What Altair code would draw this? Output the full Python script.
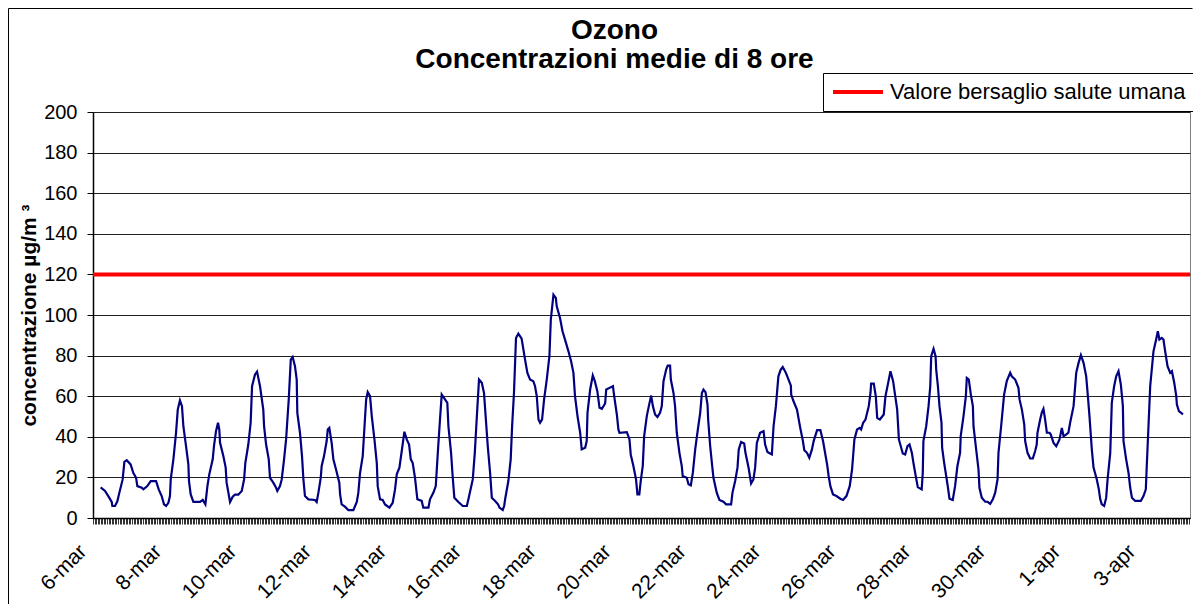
import altair as alt
import pandas as pd

# hours elapsed since 6-mar 00:00
ore = [4.9, 7.7, 9.8, 12.0, 12.4, 14.1, 15.6, 16.9, 19.0, 20.1, 21.6, 24.1, 25.8, 27.6, 28.4, 31.2, 32.3, 34.8,
       37.0, 40.4, 42.1, 44.0, 45.5, 46.8, 48.3, 49.3, 49.8, 51.5, 53.2, 54.3, 55.7, 57.0, 57.9, 59.6, 61.1, 61.5,
       62.6, 64.3, 68.6, 70.3, 72.0, 73.3, 74.5, 76.7, 77.5, 78.8, 80.1, 80.9, 81.4, 83.5, 85.0, 85.6, 87.8, 89.5,
       91.0, 93.1, 95.3, 96.8, 97.6, 99.5, 101.0, 101.9, 103.8, 105.1, 107.0, 109.1, 109.6, 110.9, 112.6, 113.4,
       115.5, 117.3, 118.1, 119.8, 120.9, 122.4, 123.7, 125.4, 126.7, 127.9, 129.4, 130.5, 130.9, 132.6, 133.9,
       134.8, 135.8, 138.0, 142.2, 143.3, 144.4, 145.9, 146.5, 148.0, 149.7, 150.4, 151.4, 152.9, 154.0, 155.7,
       157.8, 158.3, 159.3, 161.4, 163.6, 166.8, 169.0, 170.0, 171.1, 172.8, 173.7, 175.0, 176.0, 177.5, 178.6,
       180.3, 181.8, 182.4, 183.9, 185.6, 187.1, 189.9, 192.0, 193.5, 194.6, 196.3, 197.8, 199.5, 201.0, 202.5,
       203.6, 204.8, 206.3, 207.8, 210.6, 211.6, 214.9, 215.9, 218.1, 219.6, 220.9, 222.3, 223.4, 225.5, 227.0,
       227.7, 229.4, 230.4, 231.5, 234.1, 236.9, 239.5, 240.5, 243.3, 244.6, 245.8, 247.3, 249.1, 250.5, 251.4,
       252.9, 254.4, 255.5, 257.6, 259.5, 260.4, 262.5, 263.4, 264.2, 266.1, 267.6, 268.5, 269.7, 271.0, 272.5,
       274.6, 276.8, 278.3, 280.0, 282.1, 283.2, 284.3, 285.4, 286.4, 287.7, 289.0, 290.7, 292.4, 293.3, 295.0,
       296.5, 297.1, 299.2, 300.8, 302.4, 304.6, 306.3, 307.8, 308.8, 310.4, 312.1, 313.1, 315.3, 316.3, 316.8,
       318.5, 320.2, 321.5, 323.1, 324.5, 326.0, 328.1, 328.8, 330.9, 333.1, 333.9, 335.6, 336.6, 337.3, 342.0,
       343.7, 344.5, 346.2, 347.9, 348.8, 350.0, 350.9, 352.2, 353.1, 354.8, 356.1, 357.6, 358.7, 360.1, 361.6,
       363.3, 364.4, 365.5, 367.2, 368.2, 369.7, 370.2, 371.9, 372.9, 374.0, 375.7, 377.2, 377.8, 380.4, 381.5,
       383.0, 384.3, 385.8, 387.5, 389.0, 390.1, 391.1, 392.4, 393.7, 394.1, 395.4, 396.7, 397.5, 399.6, 401.3,
       403.9, 405.6, 408.8, 409.7, 411.4, 412.9, 413.7, 415.2, 417.2, 418.0, 420.0, 421.6, 423.1, 424.2, 425.3,
       427.4, 429.6, 430.6, 432.1, 434.9, 436.0, 437.5, 439.1, 440.6, 441.9, 443.9, 445.6, 447.1, 447.3, 448.8,
       451.0, 453.1, 454.8, 455.7, 457.4, 458.9, 460.6, 461.7, 463.9, 466.0, 467.7, 469.2, 470.3, 471.3, 472.4,
       474.1, 476.3, 478.8, 480.5, 482.7, 484.8, 486.3, 487.8, 489.5, 491.2, 492.1, 493.4, 494.9, 497.0, 498.1,
       498.5, 500.2, 501.5, 502.4, 504.1, 506.6, 507.7, 509.2, 510.9, 512.6, 513.5, 515.2, 516.3, 518.8, 520.3,
       521.8, 523.1, 524.6, 525.6, 527.1, 528.4, 530.9, 531.6, 532.0, 533.8, 535.3, 536.4, 537.0, 538.5, 539.8,
       540.2, 541.3, 542.3, 543.6, 544.0, 545.3, 546.6, 547.6, 548.7, 550.8, 552.3, 553.8, 555.5, 555.9, 557.7,
       559.2, 559.8, 561.1, 562.4, 563.7, 564.1, 565.8, 567.3, 567.9, 569.4, 571.6, 573.1, 574.8, 576.5, 578.0,
       579.5, 580.1, 581.8, 583.7, 585.4, 587.6, 588.6, 590.8, 592.9, 593.6, 595.1, 596.6, 597.2, 598.7, 600.4,
       602.1, 603.6, 604.6, 605.1, 606.8, 607.9, 608.9, 610.0, 611.1, 612.8, 613.6, 615.4, 617.1, 619.2, 620.7,
       621.8, 623.4, 624.9, 626.0, 628.2, 628.8, 629.9, 631.4, 632.9, 634.6, 636.3, 637.2, 638.4, 639.9, 641.0,
       643.1, 644.4, 645.3, 646.3, 647.8, 649.1, 650.0, 651.7, 652.7, 654.2, 655.5, 657.0, 658.5, 659.8, 660.2,
       661.9, 663.4, 664.5, 665.6, 667.7, 671.3, 673.0, 674.5, 675.1, 676.2, 677.3, 679.4, 681.1, 682.2, 683.2,
       684.7, 685.8, 686.9, 688.4, 690.1, 691.2, 692.7, 694.0, 694.4, 695.7, 698.3]

ozono = [15.1, 13.3, 10.8, 7.9, 5.9, 5.9, 8.2, 12.5, 19.0, 27.7, 28.5, 26.4, 22.3, 19.8, 15.7, 14.9, 14.1, 15.7,
         18.2, 18.2, 14.1, 10.8, 6.7, 5.9, 7.5, 10.8, 19.0, 28.9, 42.0, 53.4, 57.9, 55.1, 45.2, 35.4, 26.4, 18.2,
         11.6, 7.9, 7.9, 8.9, 6.7, 15.7, 21.5, 28.9, 35.4, 42.8, 46.9, 43.6, 37.0, 30.5, 24.8, 17.4, 7.9, 10.5,
         11.5, 11.5, 13.3, 19.0, 27.2, 36.2, 46.9, 64.9, 70.7, 72.1, 64.9, 53.4, 45.2, 36.2, 28.9, 19.8,
         17.4, 14.9, 13.3, 15.7, 19.0, 28.9, 38.7, 58.4, 78.0, 79.3, 74.8, 68.2, 51.8, 42.0, 30.5,
         19.0, 10.8, 9.2, 8.9, 7.9, 12.5, 19.8, 25.6, 30.5, 37.9, 43.6, 44.4, 37.0, 28.9, 23.9,
         17.4, 11.6, 6.7, 5.6, 3.9, 3.9, 7.9, 12.5, 22.3, 30.5, 42.0, 58.4, 62.0, 60.0, 50.2,
         38.7, 27.2, 15.7, 9.2, 8.9, 6.7, 5.1, 7.5, 14.1, 21.5, 24.8, 33.0, 42.5, 38.7, 36.2,
         28.9, 27.2, 19.8, 9.2, 8.4, 5.1, 5.1, 9.2, 12.5, 15.7, 32.1, 48.5, 60.8, 58.4, 56.7,
         45.2, 32.1, 20.7, 10.0, 7.9, 5.9, 5.9, 9.2, 19.0, 32.1, 48.5, 68.2, 66.6, 61.6, 51.8,
         35.4, 22.3, 10.0, 8.4, 6.7, 5.1, 3.9, 5.9, 10.0, 18.2, 28.9, 45.2, 61.6, 88.7, 90.8,
         88.4, 78.0, 71.5, 68.2, 67.4, 64.9, 60.0, 48.5, 46.9, 48.5, 58.4, 68.2, 79.7, 97.7, 110.0,
         108.4, 104.3, 98.5, 92.0, 87.9, 82.1, 77.2, 71.5, 60.0, 50.2, 42.0, 33.8, 34.6, 37.9, 51.8,
         63.3, 70.2, 67.4, 62.5, 54.3, 53.8, 56.4, 63.3, 64.1, 64.9, 60.0, 51.0, 43.6, 42.0, 42.3,
         38.7, 31.3, 25.6, 19.0, 11.6, 11.6, 18.2, 25.6, 40.3, 50.2, 55.1, 60.3, 55.1, 51.0, 49.8,
         51.8, 55.1, 67.4, 73.1, 75.1, 75.1, 68.2, 61.6, 55.1, 42.0, 32.1, 25.6, 20.7, 19.8, 16.6,
         16.1, 22.3, 33.8, 43.6, 51.8, 61.6, 63.3, 62.0, 55.9, 48.5, 35.4, 25.6, 19.8, 12.5, 8.9,
         8.0, 6.7, 6.7, 12.5, 18.2, 24.8, 33.8, 37.4, 36.7, 32.1, 24.8, 17.0, 19.0, 24.8, 37.0,
         42.0, 42.8, 36.2, 32.5, 31.3, 45.2, 55.1, 69.8, 73.1, 74.4, 71.5, 68.2, 65.2, 60.8, 57.5,
         53.4, 44.4, 37.9, 33.4, 32.1, 29.7, 33.8, 37.9, 43.3, 43.3, 37.9, 31.3, 26.4, 20.7, 15.7,
         11.6, 10.8, 9.5, 8.9, 10.8, 15.7, 23.9, 38.7, 43.6, 44.4, 43.6, 46.9, 48.5, 55.1, 61.6,
         66.2, 66.2, 60.0, 49.3, 48.5, 51.0, 60.0, 65.7, 72.3, 67.4, 62.5, 53.4, 38.7, 31.8, 31.3,
         35.4, 36.2, 32.1, 27.2, 20.7, 15.2, 14.1, 22.3, 37.9, 45.2, 55.1, 64.9, 79.7, 83.3, 79.7,
         73.1, 64.9, 55.1, 46.9, 34.6, 27.2, 20.7, 15.7, 9.5, 8.9, 15.7, 25.6, 32.1, 40.3, 50.2,
         60.0, 69.0, 68.2, 60.8, 55.1, 45.2, 33.8, 23.9, 14.9, 10.0, 8.0, 8.0, 7.0, 9.2, 12.5,
         19.0, 32.1, 45.2, 60.8, 67.4, 71.5, 69.8, 68.2, 64.1, 58.4, 53.4, 46.1, 37.9, 32.1, 29.3,
         29.3, 33.0, 36.2, 42.0, 48.5, 52.1, 53.8, 48.5, 42.0, 42.0, 41.1, 37.0, 35.4, 38.7, 44.4,
         40.3, 41.1, 42.0, 46.9, 55.1, 60.8, 71.5, 76.4, 80.2, 76.4, 69.8, 61.6, 50.2, 33.8, 24.8,
         19.0, 14.1, 9.2, 6.7, 5.9, 10.0, 19.0, 32.1, 56.7, 64.9, 69.8, 72.3, 65.7, 55.1, 37.9,
         28.9, 22.3, 14.9, 10.0, 8.4, 8.4, 10.8, 14.1, 25.6, 45.2, 64.9, 82.1, 87.9, 92.0, 87.9,
         88.7, 87.9, 82.1, 74.8, 71.5, 72.3, 66.6, 60.0, 55.9, 52.6, 51.0]

soglia_valore = [120]
soglia_nome = ["Valore bersaglio salute umana"]

y_ticks = [0, 20, 40, 60, 80, 100, 120, 140, 160, 180, 200]
x_ticks = list(range(0, 703))  # one tick per hour
titolo = ["Ozono", "Concentrazioni medie di 8 ore"]
titolo_y = "concentrazione µg/m ³"

df = pd.DataFrame({"ora": ore, "ozono": ozono})
df_soglia = pd.DataFrame({"valore": soglia_valore, "serie": soglia_nome})
df_cornice = pd.DataFrame({"k": [0]})

FONT = "Liberation Sans"

label_expr = ("datum.value % 48 == 0 ? ((6 + datum.value / 24) <= 31 ? "
              "(6 + datum.value / 24) + '-mar' : (6 + datum.value / 24 - 31) + '-apr') : ''")

x_scale = alt.Scale(domain=[0, 702.8], nice=False, zero=False)
y_scale = alt.Scale(domain=[0, 200], nice=False)

x_axis = alt.Axis(values=x_ticks, labelExpr=label_expr, labelAngle=-45, labelAlign="right",
                  labelBaseline="middle", labelPadding=24, labelOffset=-10, labelOverlap=False,
                  labelFlush=False, labelBound=False, tickSize=6, tickColor="#333333", tickWidth=1,
                  grid=False, title=None, labelFontSize=21, domainColor="#000000", domainWidth=1.5)
y_axis = alt.Axis(values=y_ticks, title=titolo_y, titleFontSize=21, titleFontWeight="bold",
                  titlePadding=4, labelFontSize=20, labelPadding=10, tickSize=6, tickColor="#000000",
                  gridColor="#222222", gridWidth=1, domainColor="#000000", domainWidth=1.5)

line = alt.Chart(df).mark_line(color="#000080", strokeWidth=2.2).encode(
    x=alt.X("ora:Q", scale=x_scale, axis=x_axis),
    y=alt.Y("ozono:Q", scale=y_scale, axis=y_axis),
)

soglia = alt.Chart(df_soglia).mark_rule(strokeWidth=4).encode(
    y=alt.Y("valore:Q", scale=y_scale),
    color=alt.Color("serie:N", scale=alt.Scale(domain=soglia_nome, range=["#FF0000"]),
                    legend=alt.Legend(orient="none", legendX=730, legendY=-39, title=None,
                                      symbolType="stroke", symbolSize=2500, symbolStrokeWidth=4,
                                      clipHeight=22, padding=8, strokeColor="#000000",
                                      fillColor="#ffffff", labelFontSize=22, labelOffset=5,
                                      labelFont=FONT, labelColor="#000000", labelLimit=500,
                                      cornerRadius=0)),
)

cornice_top = alt.Chart(df_cornice).mark_rule(color="#000000", strokeWidth=1).encode(
    x=alt.value(-84.5), x2=alt.value(1099.5), y=alt.value(-103.5))
cornice_left = alt.Chart(df_cornice).mark_rule(color="#000000", strokeWidth=1).encode(
    x=alt.value(-84.5), y=alt.value(-103.5), y2=alt.value(492))

chart = alt.layer(cornice_top, cornice_left, soglia, line).properties(
    width=1097, height=406,
    autosize=alt.AutoSizeParams(type="none"),
    padding={"left": 85, "top": 104, "right": 3, "bottom": 86},
    background="#ffffff",
    title=alt.TitleParams(text=titolo, font=FONT, fontSize=28, fontWeight="bold", color="#000000",
                          anchor="middle", frame="group", dx=-27, offset=0, dy=66, lineHeight=29),
).configure_view(stroke="#808080", strokeWidth=1).configure_axis(
    labelFont=FONT, titleFont=FONT, labelColor="#000000", titleColor="#000000"
)

chart.save("out.html", embed_options={"renderer": "svg", "actions": False})
